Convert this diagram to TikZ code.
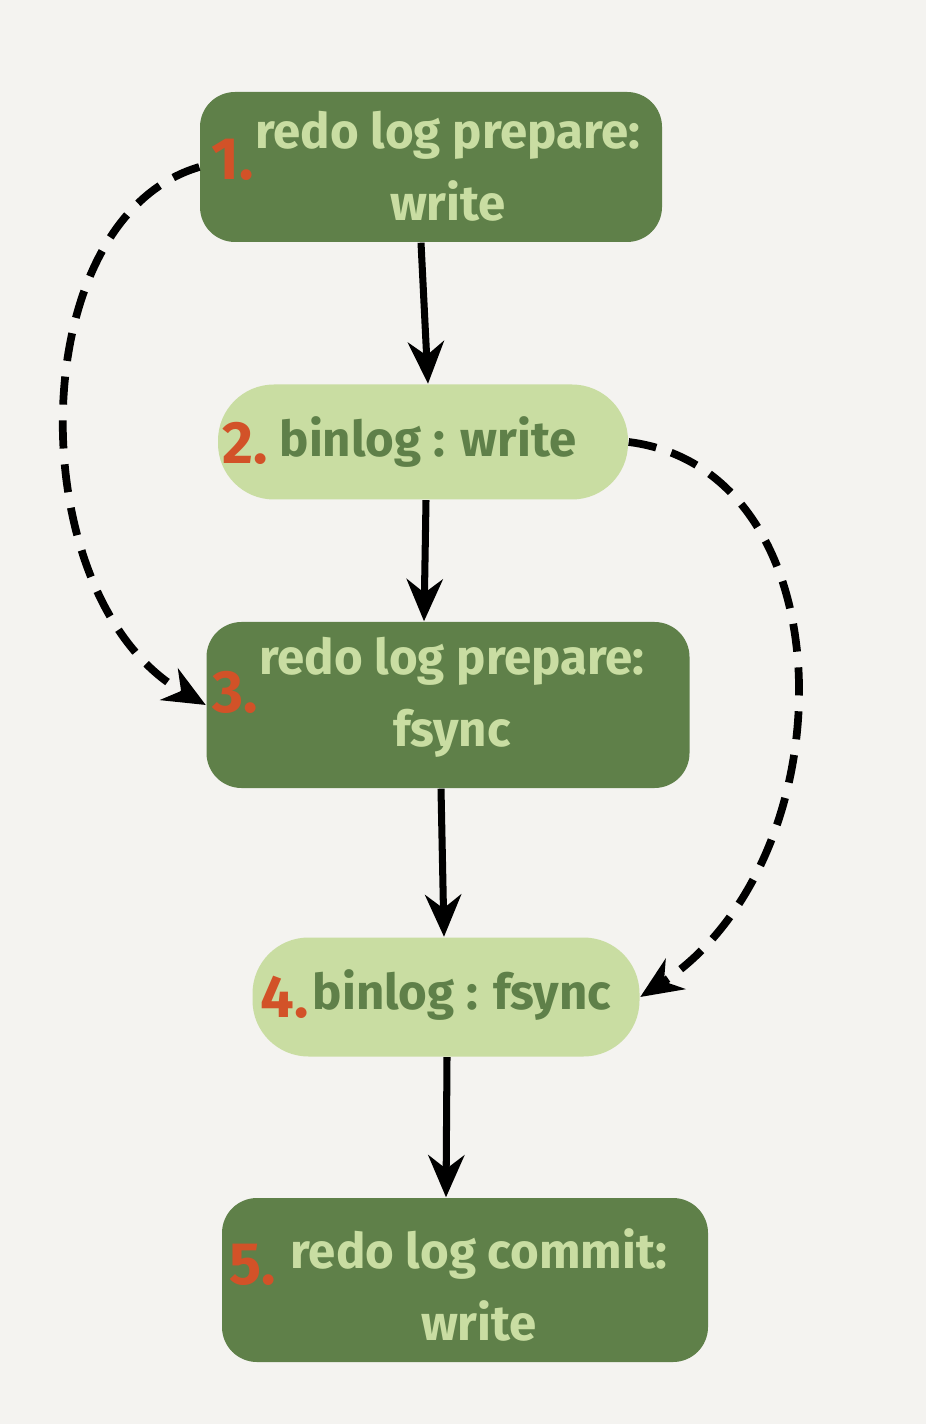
\documentclass[tikz,border=0pt]{standalone}
\usepackage{fontspec}
\setmainfont{Fira Sans}
\usetikzlibrary{arrows.meta, positioning}
\definecolor{bgpaper}{RGB}{244, 243, 240}
\definecolor{darkgreen}{RGB}{95, 128, 73}
\definecolor{lightgreen}{RGB}{201, 221, 162}
\definecolor{numred}{RGB}{210, 82, 40}

\begin{document}
\begin{tikzpicture}[
    darkbox/.style={fill=darkgreen, rounded corners=0.35cm, inner sep=0pt},
    lightbox/.style={fill=lightgreen, rounded corners=0.56cm, inner sep=0pt},
    darktext/.style={text=lightgreen, font=\fontsize{14}{20.5}\selectfont\bfseries, align=center, inner sep=0pt},
    lighttext/.style={text=darkgreen, font=\fontsize{14}{20.5}\selectfont\bfseries, inner sep=0pt},
    num/.style={text=numred, font=\fontsize{17}{20}\selectfont\bfseries, inner sep=0pt},
    flow/.style={-{Stealth[length=0.42cm, width=0.36cm]}, line width=2pt},
    jump/.style={flow, line width=2.2pt, dash pattern=on 8pt off 4.5pt},
]
    \fill[bgpaper] (0,0) rectangle (9.26,-14.24);
    \useasboundingbox (0,0) rectangle (9.26,-14.24);

    % 五个步骤
    \node[darkbox, minimum width=4.62cm, minimum height=1.50cm] (s1) at (4.31,-1.67) {};
    \node[lightbox, minimum width=4.10cm, minimum height=1.15cm] (s2) at (4.23,-4.42) {};
    \node[darkbox, minimum width=4.83cm, minimum height=1.66cm] (s3) at (4.48,-7.05) {};
    \node[lightbox, minimum width=3.87cm, minimum height=1.19cm] (s4) at (4.46,-9.97) {};
    \node[darkbox, minimum width=4.86cm, minimum height=1.64cm] (s5) at (4.65,-12.80) {};

    % 文字
    \node[darktext] (t1) at (4.48,-1.66) {redo log prepare:\\write};
    \node[num] (n1) at (2.33,-1.60) {1.};
    \node[lighttext] (t2) at (4.28,-4.42) {binlog : write};
    \node[num] (n2) at (2.45,-4.43) {2.};
    \node[darktext] (t3) at (4.52,-6.97) {redo log prepare:\\fsync};
    \node[num] (n3) at (2.35,-6.92) {3.};
    \node[lighttext] (t4) at (4.62,-9.95) {binlog : fsync};
    \node[num] (n4) at (2.85,-9.97) {4.};
    \node[darktext] (t5) at (4.79,-12.85) {redo log commit:\\write};
    \node[num] (n5) at (2.53,-12.65) {5.};

    % 主流程
    \draw[flow] ([xshift=-0.10cm]s1.south) -- ([xshift=0.05cm]s2.north);
    \draw[flow] ([xshift=0.03cm]s2.south) -- ([xshift=-0.24cm]s3.north);
    \draw[flow] ([xshift=-0.07cm]s3.south) -- ([xshift=-0.02cm]s4.north);
    \draw[flow] ([xshift=0.01cm]s4.south) -- ([xshift=-0.19cm]s5.north);

    % 虚线跳转
    \draw[jump] (s1.west) .. controls (0.2,-2.2) and (0.2,-6.0) .. (s3.west);
    \draw[jump] (s2.east) .. controls (8.5,-4.7) and (8.5,-8.6) .. (s4.east);
\end{tikzpicture}
\end{document}
